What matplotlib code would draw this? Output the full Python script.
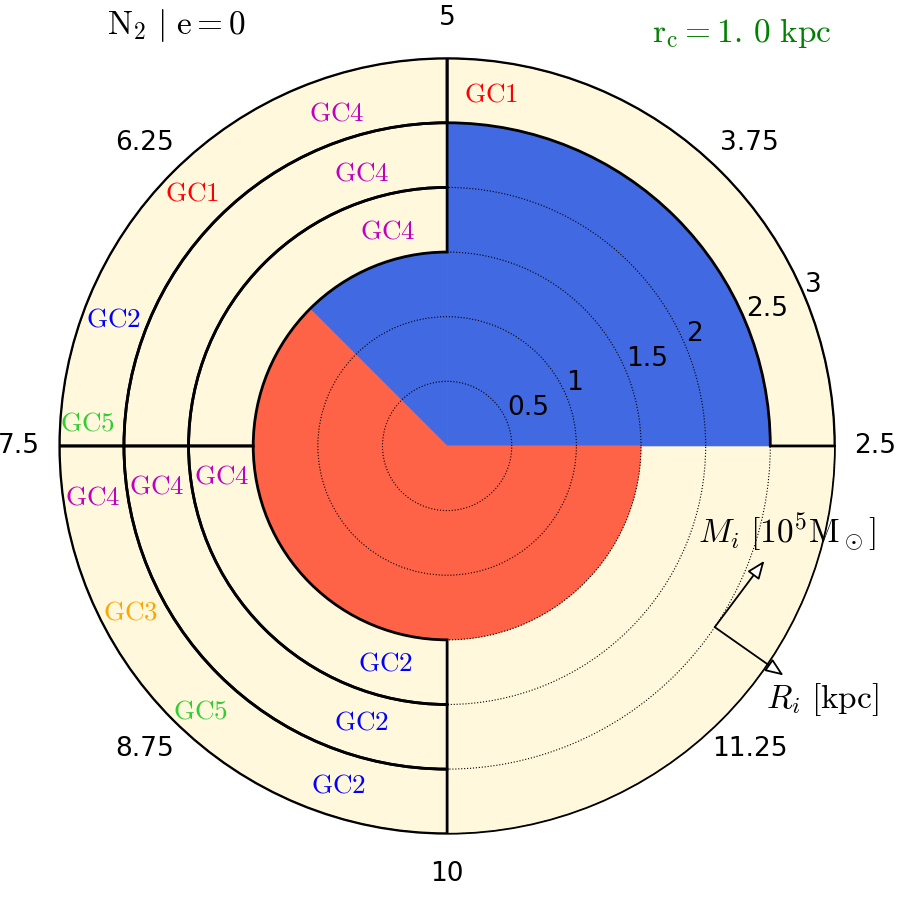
import numpy as np
import matplotlib
matplotlib.use("Agg")
import matplotlib.pyplot as plt

plt.rcParams['mathtext.fontset'] = 'cm'
plt.rcParams['font.family'] = ['DejaVu Sans']

# ---------------- data ----------------
theta_tick_deg = [0, 45, 90, 135, 180, 225, 270, 315]
theta_tick_labels = ['2.5', '3.75', '5', '6.25', '7.5', '8.75', '10', '11.25']
r_ticks = [0.5, 1.0, 1.5, 2.0, 2.5, 3.0]
r_tick_labels = ['0.5', '1', '1.5', '2', '2.5', '3']

# filled sectors (start angle deg, angular width deg, radius, colour)
fill_start = [0, 90, 135]
fill_width = [90, 45, 225]
fill_radius = [2.5, 1.5, 1.5]
fill_color = ['royalblue', 'royalblue', 'tomato']

# outlined cells (start angle deg, width deg, inner radius, thickness)
cell_start = [90, 180, 90, 180, 0, 90, 180]
cell_width = [90, 90, 90, 90, 90, 90, 90]
cell_bottom = [1.5, 1.5, 2.0, 2.0, 2.5, 2.5, 2.5]
cell_height = [0.5, 0.5, 0.5, 0.5, 0.5, 0.5, 0.5]

# GC labels
gc_names = ['GC1', 'GC4', 'GC4', 'GC4', 'GC1', 'GC2', 'GC5', 'GC4', 'GC4', 'GC4',
            'GC3', 'GC5', 'GC2', 'GC2', 'GC2']
gc_theta_deg = [82.9, 108.4, 107.3, 105.4, 135.3, 159.2, 176.5, 188.2, 188.0, 187.8,
                207.8, 227.1, 254.1, 252.8, 252.2]
gc_r = [2.74, 2.71, 2.21, 1.72, 2.78, 2.76, 2.79, 2.77, 2.27, 1.76,
        2.77, 2.80, 1.75, 2.24, 2.76]
gc_colors = {'GC1': 'red', 'GC2': 'blue', 'GC3': 'orange', 'GC4': 'm', 'GC5': 'limegreen'}

# axis-direction arrows (theta deg, r)
arrow_start = (-34.1, 2.50)
arrow_m_tip = (-19.9, 2.61)
arrow_r_tip = (-34.3, 3.15)

# ---------------- figure ----------------
fig = plt.figure(figsize=(9, 9), dpi=100)
ax = fig.add_axes([0.0659, 0.0736, 0.8618, 0.8618], projection='polar')
ax.set_facecolor('cornsilk')
ax.set_ylim(0, 3)

ax.bar(np.deg2rad(fill_start), fill_radius, width=np.deg2rad(fill_width),
       bottom=0, align='edge', color=fill_color, edgecolor=fill_color, linewidth=0.5,
       zorder=1)

ax.bar(np.deg2rad(cell_start), cell_height, width=np.deg2rad(cell_width),
       bottom=cell_bottom, align='edge', fill=False, edgecolor='black',
       linewidth=2.0, zorder=3)

ax.set_xticks(np.deg2rad(theta_tick_deg))
ax.set_xticklabels(theta_tick_labels, fontsize=19)
ax.set_yticks(r_ticks)
ax.set_yticklabels(r_tick_labels, fontsize=19)
ax.set_rlabel_position(22.5)
ax.tick_params(axis='x', length=0, pad=22)
ax.xaxis.grid(False)
ax.yaxis.grid(True, color='black', linestyle=':', linewidth=0.8)
ax.spines['polar'].set_linewidth(1.3)

for name, th, rr in zip(gc_names, gc_theta_deg, gc_r):
    ax.text(np.deg2rad(th), rr, r'$\mathrm{%s}$' % name, color=gc_colors[name],
            fontsize=19.5, ha='center', va='center', zorder=5)

arrowprops = dict(arrowstyle='-|>,head_length=0.55,head_width=0.22', fc='white', ec='black',
                  lw=1.3, shrinkA=0, shrinkB=0, mutation_scale=20)
for tip in (arrow_m_tip, arrow_r_tip):
    ax.annotate('', xy=(np.deg2rad(tip[0]), tip[1]),
                xytext=(np.deg2rad(arrow_start[0]), arrow_start[1]),
                arrowprops=arrowprops, annotation_clip=False, zorder=6)

fig.text(787 / 900, 1 - 533 / 900, r'$M_i\ [10^5\mathrm{M}_\odot]$', fontsize=24,
         ha='center', va='center')
fig.text(822 / 900, 1 - 700 / 900, r'$R_i\ [\mathrm{kpc}]$', fontsize=24,
         ha='center', va='center')

fig.text(176 / 900, 1 - 26 / 900, r'$\mathrm{N_2\ |\ e=0}$', fontsize=24,
         ha='center', va='center')
fig.text(742 / 900, 1 - 33 / 900, r'$\mathrm{r_c=1.\,0\ kpc}$', fontsize=24,
         ha='center', va='center', color='green')

fig.savefig('out.png', dpi=100)
